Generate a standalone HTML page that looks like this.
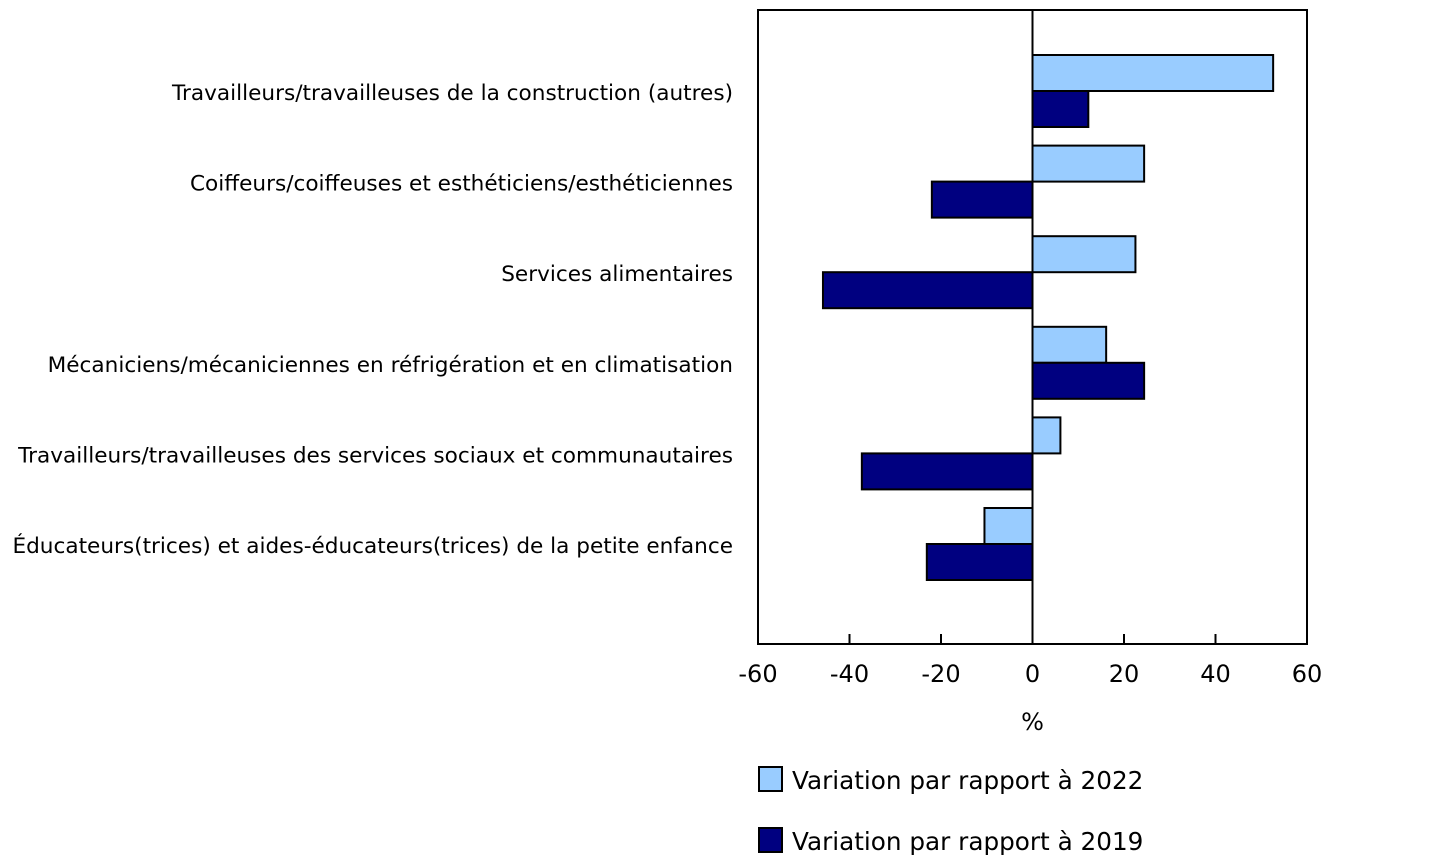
<!DOCTYPE html>
<html><head><meta charset="utf-8"><style>
body{margin:0;background:#fff;}
svg{display:block;font-family:"DejaVu Sans","Liberation Sans",sans-serif;}
</style></head><body>
<svg id="chart" width="1446" height="863"></svg>
<script>
const categories=["Travailleurs/travailleuses de la construction (autres)","Coiffeurs/coiffeuses et esthéticiens/esthéticiennes","Services alimentaires","Mécaniciens/mécaniciennes en réfrigération et en climatisation","Travailleurs/travailleuses des services sociaux et communautaires","Éducateurs(trices) et aides-éducateurs(trices) de la petite enfance"];
const series2022=[52.6,24.4,22.5,16.1,6.1,-10.5];
const series2019=[12.2,-22.0,-45.8,24.4,-37.3,-23.1];
const xTicks=[-60,-40,-20,0,20,40,60];
const NS="http://www.w3.org/2000/svg";
const svg=document.getElementById('chart');
const L=758,R=1307,T=10,B=644;
const x=v=>L+(v+60)/120*(R-L);
const yc=i=>91+90.6*i;
function mk(t,a,p){const e=document.createElementNS(NS,t);for(const k in a)e.setAttribute(k,a[k]);(p||svg).appendChild(e);return e;}
const frame=mk('rect',{x:L,y:T,width:R-L,height:B-T,fill:'none',stroke:'#000','stroke-width':2});


xTicks.forEach(v=>{
 const tk=mk('line',{x1:x(v),x2:x(v),y1:B,y2:B-10,stroke:'#000','stroke-width':2});
 
 
 const t=mk('text',{x:x(v),y:682,'text-anchor':'middle','font-size':24});
 t.textContent=v;
 
 
});
categories.forEach((c,i)=>{
 const t=mk('text',{x:733,y:yc(i)+9,'text-anchor':'end','font-size':21.6});
 t.textContent=c;
 
 
 [[series2022[i],'#99ccff',-36,'bar-2022'],[series2019[i],'#000080',0,'bar-2019']].forEach(([v,col,off,nm])=>{
  const x0=Math.min(x(0),x(v)),w=Math.abs(x(v)-x(0));
  const r=mk('rect',{x:x0,y:yc(i)+off,width:w,height:36,fill:col,stroke:'#000','stroke-width':2});
  
  
 });
});
const zl=mk('line',{x1:x(0),x2:x(0),y1:T,y2:B,stroke:'#000','stroke-width':2});


const xt=mk('text',{x:x(0),y:730,'text-anchor':'middle','font-size':24});
xt.textContent='%';


[['#99ccff','Variation par rapport à 2022',767],['#000080','Variation par rapport à 2019',828]].forEach(([col,txt,y])=>{
 const r=mk('rect',{x:759,y:y,width:23,height:24,fill:col,stroke:'#000','stroke-width':2});
 
 
 const t=mk('text',{x:792,y:y+22,'font-size':24.7});
 t.textContent=txt;
 
 
});
</script>
</body></html>
